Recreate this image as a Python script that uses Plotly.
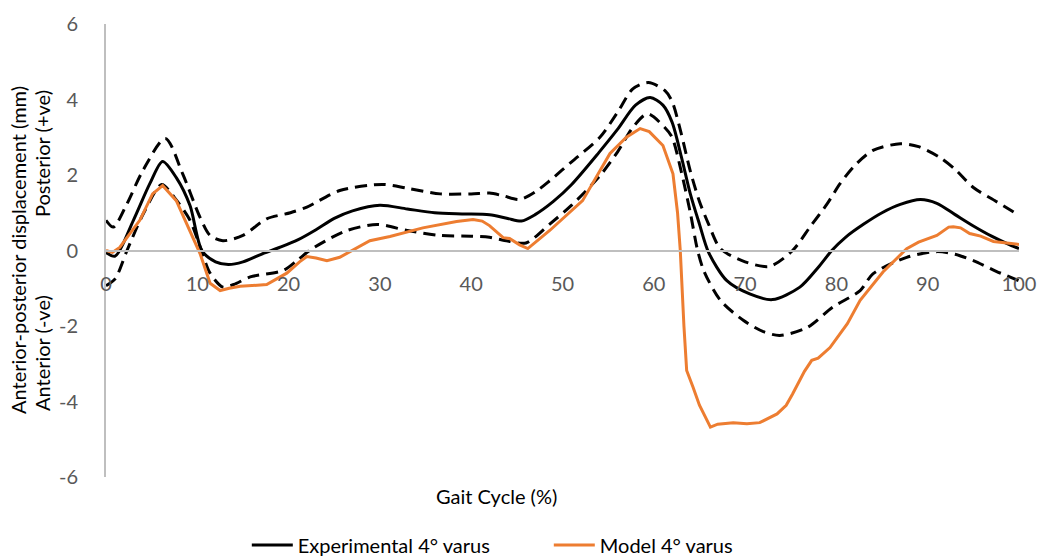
import plotly.graph_objects as go

# Gait cycle (%) sample points and anterior-posterior displacement (mm)
mean_x = [0, 1, 3, 4.8, 6.2, 7.7, 9.2, 10.5, 12, 13.4, 15, 17, 19, 21, 23, 25, 27, 30, 33, 36, 39,
          42, 44, 45.5, 47, 49, 51, 54, 56, 58, 59.6, 61, 62, 63, 64, 65, 66, 68, 70.5, 73, 76,
          78, 79.5, 81, 83, 85, 87, 89.2, 91, 93, 95, 97, 99, 100]
mean_y = [-0.05, -0.15, 0.8, 1.77, 2.36, 1.93, 1.19, 0.0, -0.3, -0.37, -0.3, -0.1, 0.08, 0.28,
          0.55, 0.85, 1.05, 1.2, 1.1, 1.0, 0.97, 0.95, 0.85, 0.78, 0.95, 1.3, 1.75, 2.6, 3.2, 3.85,
          4.05, 3.85, 3.4, 2.5, 1.5, 0.7, -0.05, -0.8, -1.15, -1.3, -0.97, -0.45, 0.0, 0.35, 0.7,
          1.0, 1.22, 1.35, 1.25, 0.95, 0.65, 0.38, 0.15, 0.05]

upper_x = [0, 0.8, 2.3, 4, 6.5, 8.4, 10.3, 11.4, 12.8, 15, 17.6, 20.2, 22, 25.6, 30.3, 33, 36.6,
           40, 42, 43.5, 45.3, 47, 48.6, 51, 54.1, 56, 57.7, 59.4, 61.2, 62, 63, 64, 65, 66, 67.3,
           70, 72.7, 75.2, 77.1, 79, 80.4, 82, 84, 87, 89, 91.3, 93, 95, 97.5, 100]
upper_y = [0.8, 0.62, 1.24, 2.1, 2.97, 2.03, 0.88, 0.4, 0.26, 0.4, 0.84, 1.0, 1.15, 1.59, 1.75,
           1.65, 1.5, 1.5, 1.52, 1.45, 1.35, 1.55, 1.85, 2.35, 3.0, 3.65, 4.28, 4.45, 4.24, 3.95,
           3.1, 2.1, 1.3, 0.7, 0.05, -0.3, -0.42, 0.0, 0.62, 1.24, 1.77, 2.25, 2.65, 2.83, 2.75,
           2.47, 2.15, 1.67, 1.3, 0.93]

lower_x = [0, 1, 2.3, 4.1, 6.1, 7.5, 9.2, 10.3, 11.4, 12.8, 14, 15.8, 19.4, 21, 22.3, 24, 26.4,
           29.7, 33, 36.6, 40, 42, 44, 46, 48.6, 51, 54.1, 56, 57.7, 59.3, 61.2, 62, 63, 64, 64.8,
           65.5, 67.3, 69.8, 72, 73.8, 76.8, 79.6, 82.6, 84, 87.7, 91, 93, 95, 97.5, 100]
lower_y = [-0.93, -0.75, 0.0, 0.98, 1.75, 1.4, 0.8, 0.1, -0.6, -0.97, -0.9, -0.7, -0.53, -0.25,
           0.0, 0.25, 0.53, 0.69, 0.53, 0.4, 0.38, 0.35, 0.25, 0.2, 0.7, 1.2, 1.98, 2.6, 3.26, 3.62,
           3.26, 3.0, 2.1, 1.0, 0.0, -0.55, -1.32, -1.85, -2.15, -2.25, -2.04, -1.5, -1.06, -0.62,
           -0.18, -0.03, -0.1, -0.27, -0.55, -0.8]

model_x = [0, 0.7, 1.5, 3.7, 5.1, 6.2, 7.7, 9.2, 10.3, 11.4, 12.5, 13.5, 14.7, 17.6, 19.8, 21.2,
           22, 23, 24.2, 25.6, 27, 28.9, 31.1, 34.7, 38.4, 40.2, 41.2, 42, 43.5, 44.2, 45.3, 46.2,
           48.6, 52.2, 55.2, 57, 58.5, 59.5, 61, 62.1, 62.6, 62.9, 63.3, 63.6, 64.3, 65, 66.2, 67,
           68.7, 70.2, 71.6, 73.5, 74.5, 75.2, 76.5, 77.3, 78, 79.3, 81.2, 82.6, 85.1, 87.7, 89,
           91, 92.3, 92.8, 93.6, 94.6, 95.8, 97.2, 100]
model_y = [0.0, -0.05, 0.08, 0.8, 1.5, 1.72, 1.32, 0.53, -0.08, -0.87, -1.06, -1.0, -0.95, -0.9,
           -0.6, -0.3, -0.16, -0.2, -0.27, -0.18, 0.0, 0.26, 0.37, 0.6, 0.77, 0.82, 0.78, 0.66,
           0.34, 0.32, 0.15, 0.05, 0.53, 1.32, 2.57, 3.0, 3.23, 3.15, 2.78, 2.03, 1.0, 0.0, -2.0,
           -3.18, -3.62, -4.1, -4.68, -4.6, -4.56, -4.59, -4.56, -4.33, -4.1, -3.8, -3.2, -2.91,
           -2.85, -2.57, -1.94, -1.32, -0.57, 0.05, 0.22, 0.4, 0.62, 0.63, 0.6, 0.45, 0.38, 0.24,
           0.16]

x_ticks = [0, 10, 20, 30, 40, 50, 60, 70, 80, 90, 100]
y_ticks = [-6, -4, -2, 0, 2, 4, 6]
y_tick_text = ["-6", "-4", "-2", "0", "2", "4", "6"]

FONT = "Lato"
GREY = "#595959"
AXIS = "#BFBFBF"

# plot area in pixels: left 106, right 1019, top 24, bottom 477
PW, PH = 913, 453

fig = go.Figure()

dash_line = dict(color="black", width=3, dash="12px,7px", shape="spline", smoothing=0.8)
fig.add_trace(go.Scatter(x=upper_x, y=upper_y, mode="lines", line=dash_line,
                         showlegend=False, hoverinfo="skip"))
fig.add_trace(go.Scatter(x=lower_x, y=lower_y, mode="lines", line=dash_line,
                         showlegend=False, hoverinfo="skip"))
fig.add_trace(go.Scatter(x=mean_x, y=mean_y, mode="lines", name="Experimental 4° varus",
                         line=dict(color="black", width=3, shape="spline", smoothing=0.8)))
fig.add_trace(go.Scatter(x=model_x, y=model_y, mode="lines", name="Model 4° varus",
                         line=dict(color="#ED7D31", width=3)))

fig.update_layout(
    width=1039, height=556,
    margin=dict(l=106, r=20, t=24, b=79, autoexpand=False),
    paper_bgcolor="white", plot_bgcolor="white",
    font=dict(family=FONT, color=GREY, size=20),
    xaxis=dict(range=[0, 100], tickvals=x_ticks, showgrid=False, zeroline=False,
               anchor="free", position=0.5, showline=True, linecolor=AXIS, linewidth=2,
               ticks="", ticklabelstandoff=15, tickfont=dict(size=20, color=GREY)),
    yaxis=dict(range=[-6, 6], tickvals=y_ticks, ticktext=y_tick_text, showgrid=False,
               zeroline=False, showline=True, linecolor=AXIS, linewidth=2, ticks="",
               ticklabelstandoff=22, tickfont=dict(size=20, color=GREY)),
    legend=dict(orientation="h", x=0.485, xanchor="center", y=-0.15, yanchor="middle",
                font=dict(size=20, color="black"), entrywidth=246, entrywidthmode="pixels",
                itemwidth=41),
    showlegend=True,
)

fig.add_annotation(text="Gait Cycle (%)", xref="paper", yref="paper", x=0.428, y=-0.042,
                   xanchor="center", yanchor="middle", showarrow=False,
                   font=dict(size=20, color="black"))
fig.add_annotation(text="Anterior-posterior displacement (mm)", xref="paper", yref="paper",
                   x=(18 - 106) / PW, y=(477 - 250) / PH, xanchor="center", yanchor="middle",
                   textangle=-90, showarrow=False, font=dict(size=20, color="black"))
fig.add_annotation(text="Posterior (+ve)", xref="paper", yref="paper",
                   x=(42 - 106) / PW, y=(477 - 154) / PH, xanchor="center", yanchor="middle",
                   textangle=-90, showarrow=False, font=dict(size=20, color="black"))
fig.add_annotation(text="Anterior (-ve)", xref="paper", yref="paper",
                   x=(42 - 106) / PW, y=(477 - 353) / PH, xanchor="center", yanchor="middle",
                   textangle=-90, showarrow=False, font=dict(size=20, color="black"))

fig.write_html("out.html")
